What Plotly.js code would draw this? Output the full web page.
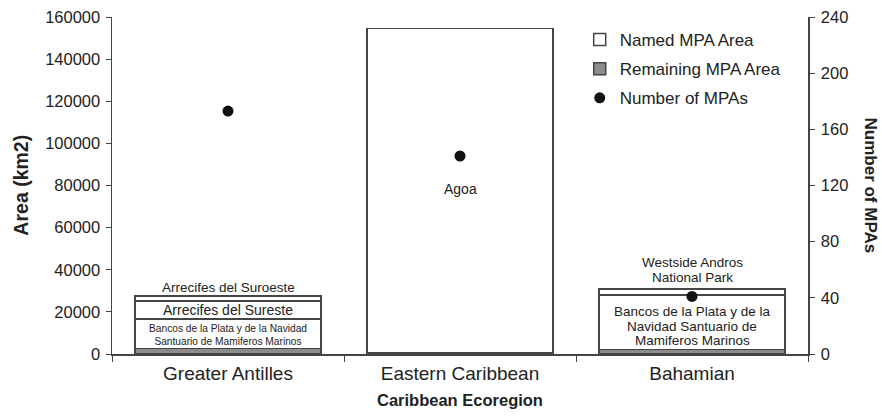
<!DOCTYPE html>
<html>
<head>
<meta charset="utf-8">
<script src="https://cdn.plot.ly/plotly-3.0.1.min.js"></script>
<style>html,body{margin:0;padding:0;background:#fff;}#chart{width:882px;height:419px;}</style>
</head>
<body>
<div id="chart"></div>
<script>
// ---- data ----
var categories = ["Greater Antilles", "Eastern Caribbean", "Bahamian"];
var remainingArea = [2500, 500, 2200];        // Remaining MPA Area (km2)
var namedArea1 = [14200, 154000, 25800];      // lowest named MPA per ecoregion
var namedArea2 = [8500, null, 2900];          // second named MPA
var namedArea3 = [2400, null, null];          // third named MPA
var numberOfMPAs = [173, 141, 41];
var segLabels1 = ["Bancos de la Plata y de la Navidad<br>Santuario de Mamiferos Marinos", "Agoa", "Bancos de la Plata y de la<br>Navidad Santuario de<br>Mamiferos Marinos"];
var segLabels2 = ["Arrecifes del Sureste", null, "Westside Andros<br>National Park"];
var segLabels3 = ["Arrecifes del Suroeste", null, null];
var leftTicks = [0, 20000, 40000, 60000, 80000, 100000, 120000, 140000, 160000];
var rightTicks = [0, 40, 80, 120, 160, 200, 240];

var FONT = "Liberation Sans, Arial, sans-serif";
var TXT = "#222";
var EDGE = "#444";

function barTrace(vals, name, fill, show, rank) {
  return {
    type: "bar", x: categories, y: vals, name: name,
    marker: {color: fill, line: {color: EDGE, width: 1.5}},
    showlegend: show, legendrank: rank, legendgroup: name,
    hoverinfo: "none"
  };
}

var traces = [
  barTrace(remainingArea, "Remaining MPA Area", "#8c8c8c", true, 2),
  barTrace(namedArea1, "Named MPA Area", "#ffffff", true, 1),
  barTrace(namedArea2, "Named 2", "#ffffff", false, 5),
  barTrace(namedArea3, "Named 3", "#ffffff", false, 6),
  {
    type: "scatter", mode: "markers", x: categories, y: numberOfMPAs, yaxis: "y2",
    name: "Number of MPAs", legendgroup: "n", legendrank: 3,
    marker: {color: "#111", size: 11, symbol: "circle"}, hoverinfo: "none"
  }
];

var annotations = [];
// place a (possibly multi-line) label centred on data value y, with custom line spacing
function addLabel(cat, y, text, size, spacing, shift) {
  var lines = text.split("<br>");
  var n = lines.length;
  for (var k = 0; k < n; k++) {
    var off = ((n - 1) / 2 - k) * spacing;
    annotations.push({x: cat, y: y, xref: "x", yref: "y", text: lines[k], showarrow: false,
      font: {family: FONT, size: size, color: TXT}, xanchor: "center", yanchor: "middle",
      yshift: off + (shift || 0)});
  }
}

// Greater Antilles
var c = 0, b = remainingArea[c];
annotations.push({x: categories[c], y: b + namedArea1[c] * 0.45, xref: "x", yref: "y", text: segLabels1[c],
  showarrow: false, font: {family: FONT, size: 10.2, color: TXT}, xanchor: "center", yanchor: "middle"});
addLabel(categories[c], b + namedArea1[c] + namedArea2[c] / 2, segLabels2[c], 14, 15, 0);
addLabel(categories[c], b + namedArea1[c] + namedArea2[c] + namedArea3[c], segLabels3[c], 13.5, 15, 8);
// Eastern Caribbean
c = 1; b = remainingArea[c];
addLabel(categories[c], b + namedArea1[c] * 0.505, segLabels1[c], 14, 15, 0);
// Bahamian
c = 2; b = remainingArea[c];
addLabel(categories[c], b + namedArea1[c] * 0.43, segLabels1[c], 13.5, 14.8, 0);
addLabel(categories[c], b + namedArea1[c] + namedArea2[c], segLabels2[c], 13.5, 15, 18.5);

annotations.push({text: "<b>Area (km2)</b>", xref: "paper", yref: "paper", x: -0.132, y: 0.5,
  xanchor: "center", yanchor: "middle",
  textangle: -90, showarrow: false, font: {family: FONT, size: 19.5, color: TXT}});
annotations.push({text: "<b>Number of MPAs</b>", xref: "paper", yref: "paper", x: 1.0905, y: 0.5,
  xanchor: "center", yanchor: "middle",
  textangle: 90, showarrow: false, font: {family: FONT, size: 17, color: TXT}});
annotations.push({text: "<b>Caribbean Ecoregion</b>", xref: "paper", yref: "paper", x: 0.5, y: -0.137,
  xanchor: "center", yanchor: "middle", showarrow: false, font: {family: FONT, size: 16.5, color: TXT}});

var layout = {
  width: 882, height: 419,
  margin: {l: 112, r: 74, t: 17, b: 65},
  paper_bgcolor: "#fff", plot_bgcolor: "#fff",
  barmode: "stack", bargap: 0.2,
  font: {family: FONT, size: 16.5, color: TXT},
  showlegend: true,
  legend: {x: 0.672, y: 0.985, xanchor: "left", yanchor: "top", traceorder: "grouped",
    tracegroupgap: 4, font: {family: FONT, size: 17, color: TXT}, bgcolor: "rgba(0,0,0,0)", itemwidth: 30},
  xaxis: {type: "category", showline: true, linecolor: EDGE, linewidth: 1.5, ticks: "outside",
    tickson: "boundaries", ticklen: 6, tickcolor: EDGE, showgrid: false, zeroline: false,
    ticklabelstandoff: 2, tickfont: {family: FONT, size: 19, color: TXT}},
  yaxis: {range: [0, 160000], tickvals: leftTicks, ticktext: leftTicks.map(String), showline: true,
    linecolor: EDGE, linewidth: 1.5, ticks: "outside", ticklen: 5, tickcolor: EDGE, showgrid: false,
    zeroline: false, ticklabelstandoff: 2, tickfont: {family: FONT, size: 16.5, color: TXT}},
  yaxis2: {range: [0, 240], tickvals: rightTicks, overlaying: "y", side: "right", showline: true,
    linecolor: EDGE, linewidth: 1.5, ticks: "outside", ticklen: 5, tickcolor: EDGE, showgrid: false,
    zeroline: false, ticklabelstandoff: 3, tickfont: {family: FONT, size: 16.5, color: TXT}},
  annotations: annotations
};

Plotly.newPlot("chart", traces, layout, {displayModeBar: false, staticPlot: true});
</script>
</body>
</html>
